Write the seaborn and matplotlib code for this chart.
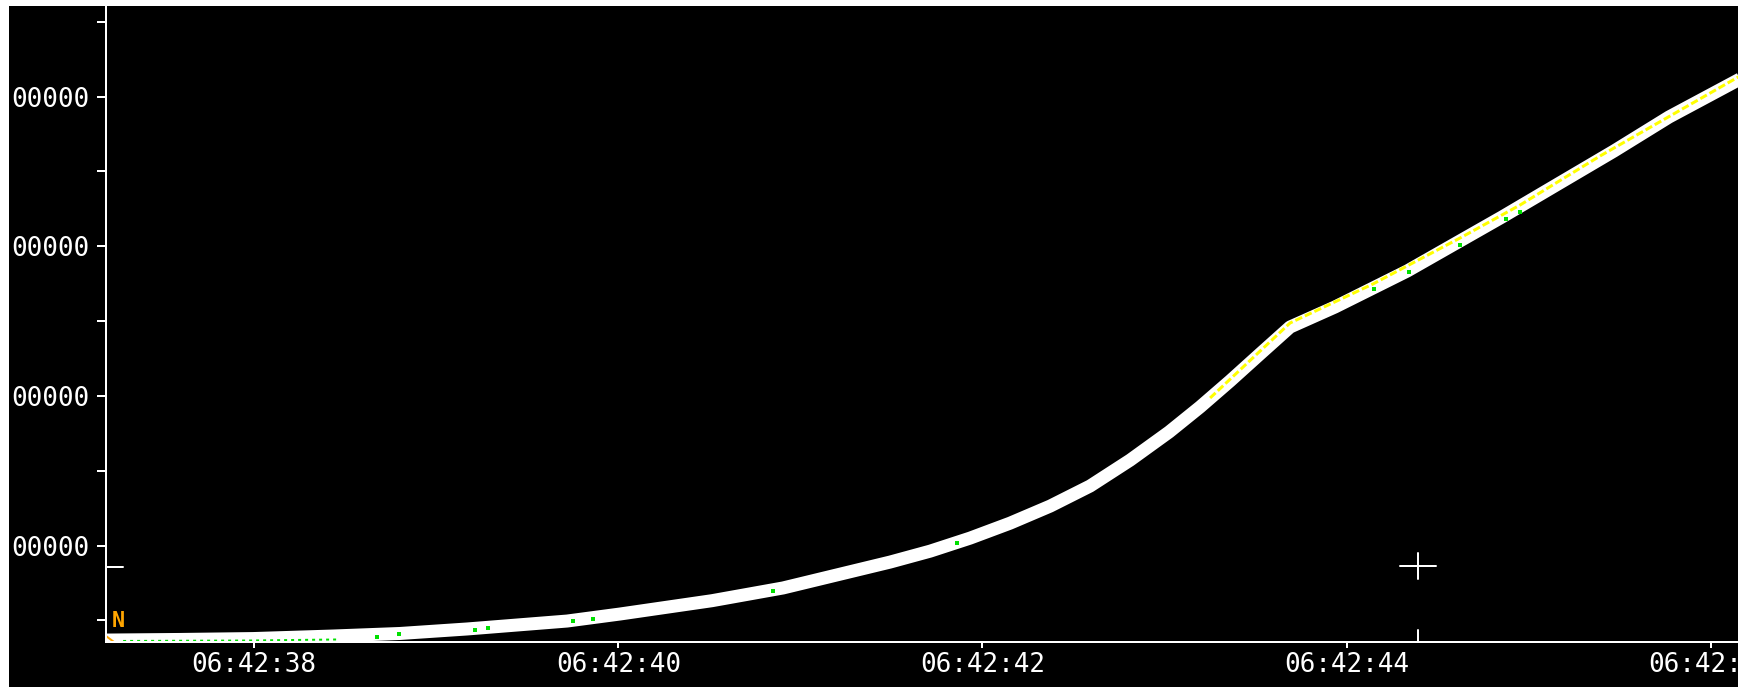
import matplotlib
matplotlib.use("Agg")
import matplotlib.pyplot as plt
import matplotlib.patches as mpatches
import pandas as pd
import seaborn as sns

# main trace: seconds after 06:42:00 vs value (million units)
trace_t = [37.187, 37.594, 37.995, 38.434, 38.802, 39.170, 39.719, 40.010,
           40.515, 40.905, 41.493, 41.713, 41.932, 42.152, 42.372, 42.591,
           42.811, 43.025, 43.195, 43.360, 43.524, 43.689, 43.936, 44.332,
           44.853, 45.161, 45.468, 45.770, 46.160]
trace_v = [0.369, 0.373, 0.379, 0.396, 0.413, 0.443, 0.496, 0.543,
           0.632, 0.717, 0.890, 0.963, 1.050, 1.150, 1.264, 1.398,
           1.571, 1.759, 1.926, 2.100, 2.280, 2.460, 2.594, 2.834,
           3.195, 3.416, 3.636, 3.863, 4.117]

# yellow reference trace
ref_t = [43.250, 43.689, 44.145, 44.623, 44.952, 45.392, 45.776, 46.160]
ref_v = [1.986, 2.487, 2.748, 3.055, 3.275, 3.603, 3.870, 4.137]

# green samples
trail_t = [37.281, 37.978, 38.472]
trail_v = [0.363, 0.366, 0.373]
dots_t = [38.675, 38.796, 39.214, 39.285, 39.752, 39.862, 40.850, 41.860,
          44.150, 44.343, 44.623, 44.875, 44.952]
dots_v = [0.392, 0.412, 0.434, 0.452, 0.498, 0.512, 0.700, 1.017,
          2.714, 2.828, 3.008, 3.182, 3.228]

x_ticks = [38, 40, 42, 44, 46]
x_labels = ["06:42:38", "06:42:40", "06:42:42", "06:42:44", "06:42:46"]
y_ticks = [1, 2, 3, 4]
y_labels = ["00000", "00000", "00000", "00000"]
y_minor = [0.5, 1.5, 2.5, 3.5, 4.5]

cursor_t, cursor_v = 44.392, 0.864

sns.set_style("dark")
plt.rcParams["font.family"] = ["DejaVu Sans Mono", "DejaVu Sans"]

DPI = 100
fig = plt.figure(figsize=(17.45, 6.87), dpi=DPI, facecolor="white")
# black screen area inside the thin white frame
fig.patches.append(mpatches.Rectangle((9 / 1745, 0), 1729 / 1745, 681 / 687,
                                      transform=fig.transFigure,
                                      facecolor="black", edgecolor="none",
                                      zorder=-10))
ax = fig.add_axes([106 / 1745, 45 / 687, 1632 / 1745, 635 / 687])
ax.set_facecolor("black")
ax.set_zorder(1)

px = 72 / DPI  # one pixel in points

df = pd.DataFrame({"t": trace_t, "v": trace_v})
sns.lineplot(data=df, x="t", y="v", ax=ax, color="white", lw=13 * px,
             solid_capstyle="butt", solid_joinstyle="round", sort=False)

ref = pd.DataFrame({"t": ref_t, "v": ref_v})
sns.lineplot(data=ref, x="t", y="v", ax=ax, color="#ffff00", lw=3 * px,
             sort=False)
ax.lines[-1].set_dashes((2.5, 1))

trail = pd.DataFrame({"t": trail_t, "v": trail_v})
sns.lineplot(data=trail, x="t", y="v", ax=ax, color="#00e000", lw=2 * px,
             sort=False)
ax.lines[-1].set_dashes((1.5, 2))
dots = pd.DataFrame({"t": dots_t, "v": dots_v})
sns.scatterplot(data=dots, x="t", y="v", ax=ax, color="#00e000", s=5,
                marker="s", linewidth=0, zorder=5)

# cursor crosshair and its axis markers
ax.plot([44.293, 44.491], [cursor_v, cursor_v], color="white", lw=2 * px)
ax.plot([cursor_t, cursor_t], [0.777, 0.951], color="white", lw=2 * px)
ax.plot([cursor_t, cursor_t], [0.356, 0.436], color="white", lw=2 * px,
        clip_on=False)
ax.plot([37.187, 37.280], [0.857, 0.857], color="white", lw=2 * px,
        clip_on=False)

# orange channel tag
ax.text(37.220, 0.456, "N", color="#ffa500", fontsize=22 * px,
        fontweight="bold", ha="left", va="baseline")
ax.plot([37.189, 37.189], [0.530, 0.556], color="#ffa500", lw=2 * px)
ax.plot([37.187, 37.231], [0.396, 0.356], color="#ffa500", lw=2 * px)

ax.set_xlim(37.187, 46.149)
ax.set_ylim(0.356, 4.598)
ax.set_xticks(x_ticks)
ax.set_xticklabels(x_labels)
ax.set_yticks(y_ticks)
ax.set_yticklabels(y_labels)
ax.set_yticks(y_minor, minor=True)
ax.set_xlabel("")
ax.set_ylabel("")
ax.grid(False)

for side in ["top", "right"]:
    ax.spines[side].set_visible(False)
for side in ["left", "bottom"]:
    ax.spines[side].set_color("white")
    ax.spines[side].set_linewidth(2 * px)

ax.tick_params(axis="y", which="both", direction="out", length=9 * px,
               width=2 * px, color="white", labelcolor="white",
               labelsize=26 * px, pad=8 * px, left=True)
ax.tick_params(axis="x", which="major", direction="out", length=6 * px,
               width=2 * px, color="white", labelcolor="white",
               labelsize=26 * px, pad=4 * px, bottom=True)

fig.savefig("out.png", dpi=DPI, facecolor="white")
